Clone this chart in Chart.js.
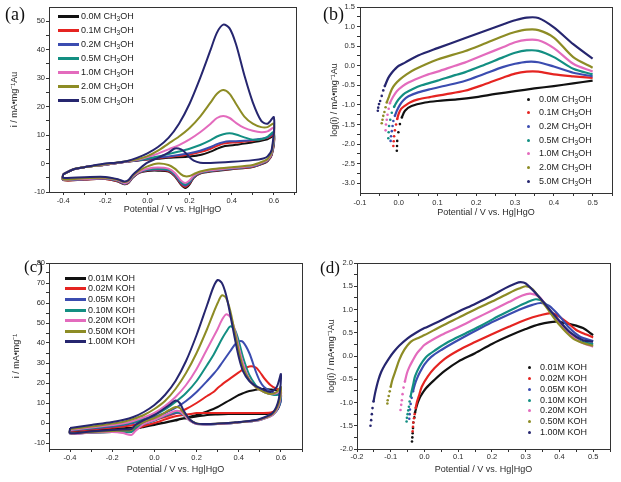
<!DOCTYPE html>
<html>
<head>
<meta charset="utf-8">
<script src="https://cdn.jsdelivr.net/npm/chart.js@4.4.1/dist/chart.umd.min.js"></script>
<style>
  body { margin: 0; background: #fff; width: 621px; height: 482px; position: relative; overflow: hidden; font-family: "Liberation Sans", Arial, sans-serif; }
  canvas { position: absolute; }
  .tag { position: absolute; font-family: "Liberation Serif", "Times New Roman", serif; font-size: 18px; line-height: 18px; color: #111; }
  .lg { position: absolute; font-size: 9px; line-height: 11px; height: 11px; white-space: nowrap; color: #222; }
  .lg .ln { position: absolute; left: 0; top: 4px; width: 21px; height: 3px; }
  .lg .dt { position: absolute; left: 0; top: 4px; width: 3px; height: 3px; border-radius: 50%; }
  .lg .ln + span { margin-left: 23px; }
  .lg .dt + span { margin-left: 12px; }
  .lg sub { font-size: 6.5px; line-height: 0; vertical-align: -1.5px; }
</style>
</head>
<body>
<canvas id="pa" width="310" height="240" style="left:0;top:0"></canvas>
<canvas id="pb" width="311" height="240" style="left:310px;top:0"></canvas>
<canvas id="pc" width="310" height="242" style="left:0;top:240px"></canvas>
<canvas id="pd" width="311" height="242" style="left:310px;top:240px"></canvas>
<div class="tag" style="left:5px;top:5px">(a)</div>
<div class="tag" style="left:323px;top:5px">(b)</div>
<div class="tag" style="left:24px;top:258px;font-size:17px">(c)</div>
<div class="tag" style="left:320px;top:259px;font-size:17px">(d)</div>
<div id="legends"></div>
<script>
// ---- series labels
const A_LABELS = ['0.0M', '0.1M', '0.2M', '0.5M', '1.0M', '2.0M', '5.0M'];
const C_LABELS = ['0.01M KOH', '0.02M KOH', '0.05M KOH', '0.10M KOH', '0.20M KOH', '0.50M KOH', '1.00M KOH'];

// ---- (a) CV in methanol: forward and reverse scans
const A_FWD_X = [-0.4, -0.35, -0.3, -0.2, -0.15, -0.1, -0.05, 0.0, 0.05, 0.1, 0.15, 0.2, 0.25, 0.3, 0.33, 0.36, 0.39, 0.42, 0.46, 0.5, 0.54, 0.57, 0.6];
const A_FWD_00 = [-3.8, -2.0, -1.3, -0.4, 0.1, 0.6, 1.0, 1.4, 1.7, 2.0, 2.2, 2.5, 3.0, 4.2, 5.2, 6.0, 6.3, 6.6, 7.0, 7.5, 8.0, 8.5, 9.5];
const A_FWD_01 = [-3.8, -2.0, -1.3, -0.4, 0.1, 0.6, 1.1, 1.5, 1.9, 2.3, 2.7, 3.2, 4.0, 5.2, 6.2, 7.0, 7.3, 7.4, 7.7, 8.0, 8.5, 9.0, 10.0];
const A_FWD_02 = [-3.8, -2.0, -1.3, -0.4, 0.1, 0.6, 1.1, 1.6, 2.1, 2.5, 3.0, 3.6, 4.5, 5.8, 6.8, 7.5, 7.8, 7.8, 8.0, 8.3, 8.7, 9.2, 10.5];
const A_FWD_03 = [-3.8, -2.0, -1.3, -0.3, 0.2, 0.7, 1.2, 1.8, 2.5, 3.3, 4.2, 5.2, 6.5, 8.2, 9.5, 10.3, 10.6, 10.2, 9.2, 8.4, 8.5, 9.4, 11.0];
const A_FWD_04 = [-3.8, -2.0, -1.3, -0.3, 0.2, 0.7, 1.3, 2.3, 3.5, 5.0, 6.5, 8.5, 11.0, 14.0, 16.0, 16.7, 16.0, 14.3, 12.5, 11.5, 11.0, 11.3, 12.5];
const A_FWD_05 = [-3.8, -2.0, -1.3, -0.2, 0.3, 0.8, 1.5, 2.6, 4.5, 7.0, 9.5, 12.5, 16.5, 21.5, 24.5, 25.8, 24.5, 21.0, 16.5, 14.0, 12.8, 12.8, 14.0];
const A_FWD_06 = [-3.8, -2.0, -1.3, 0.0, 0.3, 0.8, 2.0, 3.6, 5.8, 9.0, 14.0, 21.0, 30.0, 40.0, 46.0, 48.8, 47.5, 42.0, 31.0, 21.5, 15.0, 14.0, 16.3];
const A_REV_X = [0.59, 0.57, 0.55, 0.5, 0.4, 0.3, 0.25, 0.22, 0.2, 0.18, 0.16, 0.13, 0.1, 0.05, 0.0, -0.04, -0.07, -0.09, -0.11, -0.14, -0.2, -0.3, -0.4];
const A_REV_00 = [3.0, 0.8, 0.0, -1.2, -2.0, -2.8, -3.5, -5.0, -7.3, -8.6, -7.5, -4.5, -2.8, -2.5, -2.6, -3.3, -5.0, -6.8, -7.3, -6.3, -5.4, -5.6, -5.8];
const A_REV_01 = [3.2, 1.0, 0.2, -1.1, -1.9, -2.7, -3.4, -4.8, -7.0, -8.2, -7.2, -4.3, -2.6, -2.3, -2.4, -3.2, -4.9, -6.7, -7.2, -6.2, -5.4, -5.6, -5.8];
const A_REV_02 = [3.4, 1.1, 0.3, -1.0, -1.8, -2.6, -3.3, -4.7, -6.7, -7.8, -6.9, -4.0, -2.4, -2.1, -2.3, -3.1, -4.8, -6.6, -7.1, -6.1, -5.3, -5.5, -5.7];
const A_REV_03 = [3.6, 1.2, 0.4, -0.9, -1.7, -2.5, -3.2, -4.5, -6.3, -7.3, -6.5, -3.7, -2.1, -1.8, -2.1, -3.0, -4.7, -6.5, -7.0, -6.0, -5.2, -5.4, -5.6];
const A_REV_04 = [3.8, 1.3, 0.5, -0.8, -1.6, -2.4, -3.1, -4.3, -5.9, -6.8, -6.0, -3.3, -1.8, -1.4, -1.8, -2.9, -4.6, -6.4, -6.9, -5.9, -5.2, -5.4, -5.6];
const A_REV_05 = [4.2, 1.6, 0.8, -0.5, -1.3, -2.0, -2.8, -3.7, -4.4, -4.5, -3.8, -1.8, -0.5, 0.0, -1.0, -2.5, -4.3, -6.0, -6.5, -5.7, -5.0, -5.2, -5.5];
const A_REV_06 = [5.0, 2.5, 1.8, 1.2, 0.6, 0.2, 0.3, 1.0, 2.2, 3.8, 5.0, 5.3, 3.8, 2.0, 0.3, -2.0, -4.0, -5.8, -6.3, -5.5, -4.7, -4.8, -5.0];

// ---- (b) log(i) in methanol
const B_X_00 = [-0.005, -0.0045, -0.004, -0.001, 0.003, 0.008, 0.016, 0.033, 0.068, 0.1, 0.15, 0.2, 0.25, 0.3, 0.35, 0.4, 0.45, 0.5];
const B_Y_00 = [-2.17, -2.05, -1.92, -1.7, -1.49, -1.32, -1.15, -1.03, -0.94, -0.9, -0.86, -0.8, -0.72, -0.65, -0.58, -0.52, -0.45, -0.38];
const B_X_01 = [-0.014, -0.013, -0.012, -0.01, -0.007, -0.004, 0.0, 0.006, 0.016, 0.03, 0.05, 0.08, 0.12, 0.17, 0.22, 0.27, 0.3, 0.33, 0.36, 0.4, 0.45, 0.5];
const B_Y_01 = [-2.05, -1.93, -1.8, -1.65, -1.5, -1.36, -1.22, -1.1, -1.02, -0.93, -0.86, -0.8, -0.73, -0.64, -0.48, -0.3, -0.2, -0.15, -0.15, -0.22, -0.27, -0.31];
const B_X_02 = [-0.021, -0.02, -0.018, -0.016, -0.014, -0.01, -0.005, 0.003, 0.012, 0.025, 0.05, 0.08, 0.12, 0.17, 0.22, 0.27, 0.3, 0.33, 0.36, 0.4, 0.45, 0.5];
const B_Y_02 = [-1.92, -1.8, -1.67, -1.54, -1.41, -1.28, -1.15, -1.0, -0.88, -0.78, -0.68, -0.6, -0.51, -0.39, -0.21, -0.03, 0.05, 0.1, 0.09, -0.02, -0.18, -0.27];
const B_X_03 = [-0.027, -0.026, -0.025, -0.022, -0.018, -0.012, -0.005, 0.005, 0.016, 0.035, 0.059, 0.1, 0.145, 0.17, 0.22, 0.27, 0.3, 0.33, 0.36, 0.4, 0.45, 0.5];
const B_Y_03 = [-1.85, -1.7, -1.54, -1.38, -1.2, -1.05, -0.92, -0.8, -0.7, -0.6, -0.5, -0.38, -0.24, -0.17, 0.02, 0.22, 0.33, 0.39, 0.38, 0.22, -0.08, -0.22];
const B_X_04 = [-0.034, -0.033, -0.031, -0.029, -0.026, -0.023, -0.015, -0.005, 0.01, 0.025, 0.05, 0.076, 0.1, 0.145, 0.17, 0.22, 0.27, 0.3, 0.33, 0.36, 0.4, 0.45, 0.5];
const B_Y_04 = [-1.65, -1.5, -1.38, -1.25, -1.1, -0.96, -0.8, -0.65, -0.52, -0.43, -0.32, -0.22, -0.15, 0.0, 0.08, 0.28, 0.48, 0.6, 0.66, 0.65, 0.45, 0.05, -0.15];
const B_X_05 = [-0.044, -0.042, -0.04, -0.037, -0.034, -0.031, -0.025, -0.018, -0.01, 0.003, 0.02, 0.042, 0.1, 0.17, 0.22, 0.27, 0.3, 0.33, 0.36, 0.4, 0.45, 0.5];
const B_Y_05 = [-1.47, -1.38, -1.28, -1.18, -1.06, -0.94, -0.78, -0.6, -0.48, -0.35, -0.22, -0.09, 0.16, 0.37, 0.56, 0.76, 0.86, 0.92, 0.91, 0.72, 0.22, -0.05];
const B_X_06 = [-0.054, -0.053, -0.051, -0.048, -0.044, -0.04, -0.036, -0.027, -0.018, -0.01, 0.0, 0.016, 0.05, 0.1, 0.17, 0.22, 0.27, 0.3, 0.33, 0.36, 0.4, 0.45, 0.5];
const B_Y_06 = [-1.15, -1.07, -0.98, -0.9, -0.77, -0.63, -0.52, -0.31, -0.18, -0.09, 0.0, 0.08, 0.26, 0.45, 0.7, 0.88, 1.06, 1.16, 1.23, 1.22, 0.98, 0.55, 0.18];
const B_DOTS = [6, 6, 6, 6, 6, 6, 7];

// ---- (c) CV in KOH: forward and reverse scans
const C_FWD_X = [-0.4, -0.3, -0.2, -0.15, -0.1, -0.05, 0.0, 0.05, 0.1, 0.15, 0.2, 0.25, 0.28, 0.3, 0.32, 0.34, 0.36, 0.38, 0.4, 0.42, 0.45, 0.48, 0.5, 0.52, 0.55, 0.58, 0.6];
const C_FWD_00 = [-4.5, -3.7, -3.0, -2.6, -2.2, -1.5, -0.8, 0.3, 1.5, 2.7, 4.0, 5.8, 7.0, 8.0, 9.2, 10.4, 11.6, 12.8, 14.0, 14.9, 16.0, 16.6, 17.0, 17.0, 16.8, 16.3, 15.0];
const C_FWD_01 = [-4.0, -3.2, -2.3, -1.8, -1.0, 0.3, 1.5, 3.0, 4.8, 7.0, 10.0, 13.5, 15.5, 17.5, 19.2, 20.8, 22.3, 23.8, 25.3, 26.8, 28.3, 27.8, 25.5, 22.5, 19.0, 17.0, 16.5];
const C_FWD_02 = [-3.8, -2.8, -1.8, -1.0, 0.0, 1.3, 3.0, 5.0, 7.5, 11.0, 15.5, 21.0, 24.5, 27.0, 30.0, 33.0, 36.0, 39.0, 40.8, 40.5, 35.0, 26.0, 21.0, 18.0, 16.0, 14.5, 13.0];
const C_FWD_03 = [-3.5, -2.5, -1.3, -0.6, 0.5, 2.0, 4.0, 6.8, 10.5, 15.0, 21.0, 29.0, 34.0, 38.0, 42.0, 45.5, 48.3, 47.0, 41.0, 33.0, 24.0, 19.0, 17.0, 15.5, 14.5, 14.0, 15.0];
const C_FWD_04 = [-3.5, -2.3, -1.0, -0.3, 1.0, 2.8, 5.0, 8.5, 13.0, 19.0, 27.0, 37.0, 43.0, 47.0, 51.5, 54.3, 53.0, 47.0, 38.0, 30.0, 22.0, 18.0, 16.5, 15.5, 14.5, 15.0, 17.0];
const C_FWD_05 = [-3.0, -1.8, -0.3, 0.5, 2.0, 4.0, 7.0, 11.0, 17.0, 25.0, 35.0, 47.0, 55.0, 60.0, 63.8, 62.5, 56.0, 46.0, 36.0, 28.0, 21.5, 18.0, 16.5, 15.5, 14.5, 15.5, 18.0];
const C_FWD_06 = [-2.5, -1.0, 0.5, 1.5, 3.0, 5.5, 9.0, 14.0, 21.0, 31.0, 44.0, 59.0, 68.0, 71.5, 70.0, 64.0, 54.0, 43.0, 33.0, 26.0, 21.0, 18.5, 17.5, 16.5, 15.5, 18.0, 24.5];
const C_REV_X = [0.59, 0.56, 0.5, 0.45, 0.4, 0.35, 0.3, 0.25, 0.2, 0.17, 0.14, 0.12, 0.1, 0.07, 0.03, 0.0, -0.05, -0.09, -0.11, -0.15, -0.2, -0.3, -0.4];
const C_REV_00 = [8.0, 5.0, 4.5, 4.5, 4.5, 4.5, 4.3, 4.0, 3.2, 2.7, 2.2, 1.8, 1.2, 0.6, -0.3, -1.0, -2.0, -3.0, -4.2, -4.4, -4.5, -4.8, -5.0];
const C_REV_01 = [9.0, 5.5, 5.0, 5.0, 5.0, 5.0, 5.0, 5.0, 5.0, 4.5, 4.0, 3.7, 3.4, 2.5, 1.0, 0.0, -1.5, -3.0, -4.0, -4.1, -4.2, -4.6, -5.0];
const C_REV_02 = [8.0, 4.0, 1.5, 0.8, 0.3, -0.2, -0.5, -0.7, -0.3, 1.5, 4.0, 5.0, 5.0, 4.2, 2.7, 1.2, -0.5, -2.5, -4.3, -4.4, -4.4, -4.8, -5.2];
const C_REV_03 = [8.5, 4.0, 1.5, 0.8, 0.3, -0.2, -0.5, -0.7, -0.5, 1.0, 3.8, 5.3, 5.5, 4.5, 2.8, 1.3, -0.5, -2.5, -4.5, -4.6, -4.5, -4.8, -5.2];
const C_REV_04 = [9.0, 4.0, 1.5, 0.8, 0.3, -0.2, -0.5, -0.7, -0.5, 1.0, 4.0, 5.8, 6.0, 4.8, 3.0, 1.5, -0.5, -4.0, -6.0, -5.0, -4.5, -4.8, -5.3];
const C_REV_05 = [10.0, 4.5, 1.8, 1.0, 0.4, 0.0, -0.3, -0.5, -0.2, 1.5, 5.0, 7.5, 8.0, 6.5, 4.0, 2.5, 0.5, -1.5, -3.5, -3.8, -4.0, -4.5, -5.0];
const C_REV_06 = [12.0, 5.0, 2.0, 1.0, 0.5, 0.0, -0.3, -0.5, -0.3, 1.5, 6.0, 10.0, 11.2, 9.0, 6.0, 4.0, 1.5, -1.0, -3.0, -3.3, -3.5, -4.2, -5.0];

// ---- (d) log(i) in KOH
const D_X_00 = [-0.037, -0.036, -0.035, -0.034, -0.033, -0.03, -0.028, -0.025, -0.022, -0.017, -0.012, 0.005, 0.03, 0.06, 0.1, 0.15, 0.2, 0.25, 0.3, 0.34, 0.39, 0.44, 0.47, 0.5];
const D_Y_00 = [-1.84, -1.75, -1.66, -1.55, -1.43, -1.32, -1.22, -1.13, -1.05, -0.95, -0.87, -0.69, -0.51, -0.32, -0.12, 0.06, 0.26, 0.43, 0.58, 0.68, 0.74, 0.67, 0.6, 0.45];
const D_X_01 = [-0.035, -0.034, -0.033, -0.031, -0.029, -0.026, -0.022, -0.017, -0.008, 0.01, 0.03, 0.06, 0.1, 0.15, 0.2, 0.25, 0.3, 0.34, 0.38, 0.42, 0.45, 0.48, 0.5];
const D_Y_01 = [-1.62, -1.52, -1.43, -1.34, -1.25, -1.12, -0.98, -0.87, -0.66, -0.44, -0.26, -0.06, 0.12, 0.3, 0.47, 0.63, 0.78, 0.87, 0.92, 0.74, 0.56, 0.46, 0.4];
const D_X_02 = [-0.045, -0.044, -0.043, -0.041, -0.038, -0.034, -0.029, -0.022, -0.012, 0.0, 0.02, 0.05, 0.09, 0.14, 0.19, 0.24, 0.29, 0.32, 0.345, 0.37, 0.4, 0.43, 0.46, 0.5];
const D_Y_02 = [-1.35, -1.25, -1.15, -1.03, -0.9, -0.76, -0.62, -0.48, -0.33, -0.18, -0.02, 0.13, 0.3, 0.5, 0.69, 0.86, 1.02, 1.1, 1.14, 1.08, 0.86, 0.6, 0.42, 0.32];
const D_X_03 = [-0.053, -0.052, -0.05, -0.048, -0.046, -0.044, -0.041, -0.038, -0.033, -0.028, -0.015, 0.005, 0.035, 0.07, 0.12, 0.17, 0.22, 0.27, 0.3, 0.33, 0.355, 0.38, 0.42, 0.46, 0.5];
const D_Y_03 = [-1.41, -1.33, -1.25, -1.17, -1.09, -0.98, -0.87, -0.76, -0.6, -0.44, -0.23, -0.02, 0.14, 0.3, 0.48, 0.66, 0.86, 1.04, 1.14, 1.22, 1.15, 0.88, 0.56, 0.33, 0.25];
const D_X_04 = [-0.071, -0.069, -0.067, -0.065, -0.062, -0.058, -0.052, -0.045, -0.035, -0.022, -0.01, 0.0, 0.05, 0.1, 0.15, 0.2, 0.25, 0.29, 0.314, 0.34, 0.37, 0.41, 0.46, 0.5];
const D_Y_04 = [-1.16, -1.05, -0.95, -0.82, -0.68, -0.55, -0.37, -0.24, -0.1, 0.06, 0.16, 0.24, 0.45, 0.62, 0.8, 0.98, 1.16, 1.3, 1.34, 1.27, 0.99, 0.63, 0.31, 0.2];
const D_X_05 = [-0.11, -0.109, -0.106, -0.103, -0.1, -0.095, -0.085, -0.075, -0.06, -0.04, -0.015, 0.0, 0.05, 0.1, 0.15, 0.2, 0.25, 0.28, 0.3, 0.32, 0.36, 0.4, 0.44, 0.47, 0.5];
const D_Y_05 = [-1.02, -0.95, -0.86, -0.76, -0.66, -0.51, -0.3, -0.09, 0.13, 0.31, 0.4, 0.45, 0.64, 0.82, 1.0, 1.17, 1.35, 1.45, 1.5, 1.44, 1.06, 0.67, 0.38, 0.28, 0.22];
const D_X_06 = [-0.16, -0.158, -0.156, -0.154, -0.151, -0.147, -0.142, -0.136, -0.128, -0.118, -0.106, -0.092, -0.075, -0.05, -0.025, 0.0, 0.05, 0.1, 0.15, 0.2, 0.24, 0.27, 0.285, 0.3, 0.34, 0.365, 0.39, 0.43, 0.47, 0.5];
const D_Y_06 = [-1.5, -1.38, -1.25, -1.12, -0.98, -0.82, -0.66, -0.5, -0.34, -0.2, -0.06, 0.08, 0.22, 0.38, 0.5, 0.6, 0.77, 0.95, 1.12, 1.3, 1.46, 1.56, 1.59, 1.56, 1.27, 1.05, 0.84, 0.52, 0.34, 0.31];
const D_DOTS = [7, 6, 6, 7, 6, 5, 5];

// ---- ticks
const A_X_TICKS = [-0.4, -0.3, -0.2, -0.1, 0, 0.1, 0.2, 0.3, 0.4, 0.5, 0.6, 0.7];
const A_X_LABELS = ['-0.4', '', '-0.2', '', '0.0', '', '0.2', '', '0.4', '', '0.6', ''];
const A_Y_TICKS = [-10, -5, 0, 5, 10, 15, 20, 25, 30, 35, 40, 45, 50];
const A_Y_LABELS = ['-10', '', '0', '', '10', '', '20', '', '30', '', '40', '', '50'];
const B_X_TICKS = [-0.1, -0.05, 0, 0.05, 0.1, 0.15, 0.2, 0.25, 0.3, 0.35, 0.4, 0.45, 0.5, 0.55];
const B_X_LABELS = ['-0.1', '', '0.0', '', '0.1', '', '0.2', '', '0.3', '', '0.4', '', '0.5', ''];
const B_Y_TICKS = [-3.0, -2.75, -2.5, -2.25, -2.0, -1.75, -1.5, -1.25, -1.0, -0.75, -0.5, -0.25, 0, 0.25, 0.5, 0.75, 1.0, 1.25, 1.5];
const B_Y_LABELS = ['-3.0', '', '-2.5', '', '-2.0', '', '-1.5', '', '-1.0', '', '-0.5', '', '0.0', '', '0.5', '', '1.0', '', '1.5'];
const C_X_TICKS = [-0.5, -0.4, -0.3, -0.2, -0.1, 0, 0.1, 0.2, 0.3, 0.4, 0.5, 0.6, 0.7];
const C_X_LABELS = ['', '-0.4', '', '-0.2', '', '0.0', '', '0.2', '', '0.4', '', '0.6', ''];
const C_Y_TICKS = [-10, -5, 0, 5, 10, 15, 20, 25, 30, 35, 40, 45, 50, 55, 60, 65, 70, 75, 80];
const C_Y_LABELS = ['-10', '', '0', '', '10', '', '20', '', '30', '', '40', '', '50', '', '60', '', '70', '', '80'];
const D_X_TICKS = [-0.2, -0.15, -0.1, -0.05, 0, 0.05, 0.1, 0.15, 0.2, 0.25, 0.3, 0.35, 0.4, 0.45, 0.5, 0.55];
const D_X_LABELS = ['-0.2', '', '-0.1', '', '0.0', '', '0.1', '', '0.2', '', '0.3', '', '0.4', '', '0.5', ''];
const D_Y_TICKS = [-2.0, -1.75, -1.5, -1.25, -1.0, -0.75, -0.5, -0.25, 0, 0.25, 0.5, 0.75, 1.0, 1.25, 1.5, 1.75, 2.0];
const D_Y_LABELS = ['-2.0', '', '-1.5', '', '-1.0', '', '-0.5', '', '0.0', '', '0.5', '', '1.0', '', '1.5', '', '2.0'];

// ---- styling
const FONT = '"Liberation Sans", Arial, sans-serif';
const INK = '#2b2b2b';
const COLORS = ['#111111', '#e52421', '#3b4cb0', '#138f82', '#e36bbd', '#8d8c25', '#26266f'];
const X_TITLE = 'Potential / V vs. Hg|HgO';

Chart.defaults.font.family = FONT;
Chart.defaults.color = INK;

// box around the plot area
const framePlugin = {
  id: 'frame',
  beforeDatasetsDraw(chart) {
    const { ctx, chartArea: a } = chart;
    ctx.save();
    ctx.strokeStyle = '#333';
    ctx.lineWidth = 1;
    ctx.strokeRect(Math.round(a.left) + 0.5, Math.round(a.top) + 0.5, Math.round(a.right - a.left), Math.round(a.bottom - a.top));
    ctx.restore();
  }
};

function axis(pos, min, max, ticks, labels, title, size, tickPad, titlePad) {
  return {
    type: 'linear', position: pos, min: min, max: max, bounds: 'data',
    afterBuildTicks: s => { s.ticks = ticks.map(v => ({ value: v })); },
    afterFit: s => { if (pos === 'left') s.width = size; else s.height = size; },
    border: { display: false },
    grid: { drawOnChartArea: false, drawTicks: true, tickLength: 3, color: '#333', lineWidth: 1 },
    ticks: { autoSkip: false, maxRotation: 0, padding: tickPad, color: INK, font: { size: 7.5 },
             callback: (v, i) => labels[i] },
    title: { display: true, text: title, color: INK, font: { size: 9 },
             padding: pos === 'left' ? { top: titlePad, bottom: 0 } : { top: 0, bottom: titlePad } }
  };
}

function cvData(fx, fy, rx, ry) {
  const pts = fx.map((x, i) => ({ x: x, y: fy[i] }));
  rx.forEach((x, i) => pts.push({ x: x, y: ry[i] }));
  pts.push({ x: fx[0], y: fy[0] });
  return pts;
}

function cvSets(fx, fwd, rx, rev) {
  return fwd.map((fy, i) => ({
    data: cvData(fx, fy, rx, rev[i]),
    borderColor: COLORS[i], borderWidth: 2, pointRadius: 0,
    showLine: true, tension: 0.3, order: 6 - i
  }));
}

function logSets(xs, ys, dots) {
  return xs.map((xa, i) => ({
    data: xa.map((x, k) => ({ x: x, y: ys[i][k] })),
    borderColor: COLORS[i], backgroundColor: COLORS[i], borderWidth: 2.2,
    showLine: true, tension: 0.3, order: 6 - i,
    pointRadius: ctx => ctx.dataIndex < dots[i] ? 1.3 : 0, pointBorderWidth: 0,
    segment: { borderColor: ctx => ctx.p1DataIndex < dots[i] ? 'rgba(0,0,0,0)' : undefined }
  }));
}

function makeChart(id, datasets, pad, xAxis, yAxis) {
  return new Chart(document.getElementById(id), {
    type: 'scatter',
    data: { datasets: datasets },
    options: {
      responsive: false, animation: false,
      layout: { padding: pad },
      plugins: { legend: { display: false }, tooltip: { enabled: false } },
      scales: { x: xAxis, y: yAxis }
    },
    plugins: [framePlugin]
  });
}

makeChart('pa',
  cvSets(A_FWD_X, [A_FWD_00, A_FWD_01, A_FWD_02, A_FWD_03, A_FWD_04, A_FWD_05, A_FWD_06],
         A_REV_X, [A_REV_00, A_REV_01, A_REV_02, A_REV_03, A_REV_04, A_REV_05, A_REV_06]),
  { top: 7, right: 14, left: 0, bottom: 0 },
  axis('bottom', -0.467, 0.705, A_X_TICKS, A_X_LABELS, X_TITLE, 48, 1.5, 24.6),
  axis('left', -10, 55, A_Y_TICKS, A_Y_LABELS, 'i / mA\u2022mg\u207B\u00B9Au', 49, 1, 9.6));

makeChart('pb',
  logSets([B_X_00, B_X_01, B_X_02, B_X_03, B_X_04, B_X_05, B_X_06],
          [B_Y_00, B_Y_01, B_Y_02, B_Y_03, B_Y_04, B_Y_05, B_Y_06], B_DOTS),
  { top: 7, right: 9, left: 0, bottom: 0 },
  axis('bottom', -0.1, 0.55, B_X_TICKS, B_X_LABELS, X_TITLE, 47, 2, 21.9),
  axis('left', -3.25, 1.5, B_Y_TICKS, B_Y_LABELS, 'log(i) / mA\u2022mg\u207B\u00B9Au', 50, 2, 19.6));

makeChart('pc',
  cvSets(C_FWD_X, [C_FWD_00, C_FWD_01, C_FWD_02, C_FWD_03, C_FWD_04, C_FWD_05, C_FWD_06],
         C_REV_X, [C_REV_00, C_REV_01, C_REV_02, C_REV_03, C_REV_04, C_REV_05, C_REV_06]),
  { top: 23, right: 8, left: 0, bottom: 0 },
  axis('bottom', -0.5, 0.7, C_X_TICKS, C_X_LABELS, X_TITLE, 33, 1, 6.6),
  axis('left', -13, 80, C_Y_TICKS, C_Y_LABELS, 'i / mA\u2022mg\u207B\u00B9', 49, 1, 11.3));

makeChart('pd',
  logSets([D_X_00, D_X_01, D_X_02, D_X_03, D_X_04, D_X_05, D_X_06],
          [D_Y_00, D_Y_01, D_Y_02, D_Y_03, D_Y_04, D_Y_05, D_Y_06], D_DOTS),
  { top: 23, right: 11, left: 0, bottom: 0 },
  axis('bottom', -0.2, 0.55, D_X_TICKS, D_X_LABELS, X_TITLE, 33, 0, 6.6),
  axis('left', -2, 2, D_Y_TICKS, D_Y_LABELS, 'log(i) / mA\u2022mg\u207B\u00B9Au', 47, 1, 16.3));

// legends placed inside the plot areas
function legend(labels, html, left, top0, step, kind) {
  const box = document.getElementById('legends');
  labels.forEach((lab, i) => {
    const row = document.createElement('div');
    row.className = 'lg';
    row.style.left = Math.round(left) + 'px';
    row.style.top = Math.round(top0 + step * i - 5.5) + 'px';
    const mark = document.createElement('span');
    mark.className = kind;
    mark.style.background = COLORS[i];
    row.appendChild(mark);
    const txt = document.createElement('span');
    txt.innerHTML = html(lab);
    row.appendChild(txt);
    box.appendChild(row);
  });
}
const meoh = lab => lab + ' CH<sub>3</sub>OH';
legend(A_LABELS, meoh, 58, 16.7, 13.9, 'ln');
legend(A_LABELS, meoh, 527, 99.3, 13.67, 'dt');
legend(C_LABELS, lab => lab, 65, 278.3, 10.57, 'ln');
legend(C_LABELS, lab => lab, 528, 367.3, 10.9, 'dt');
</script>
</body>
</html>
